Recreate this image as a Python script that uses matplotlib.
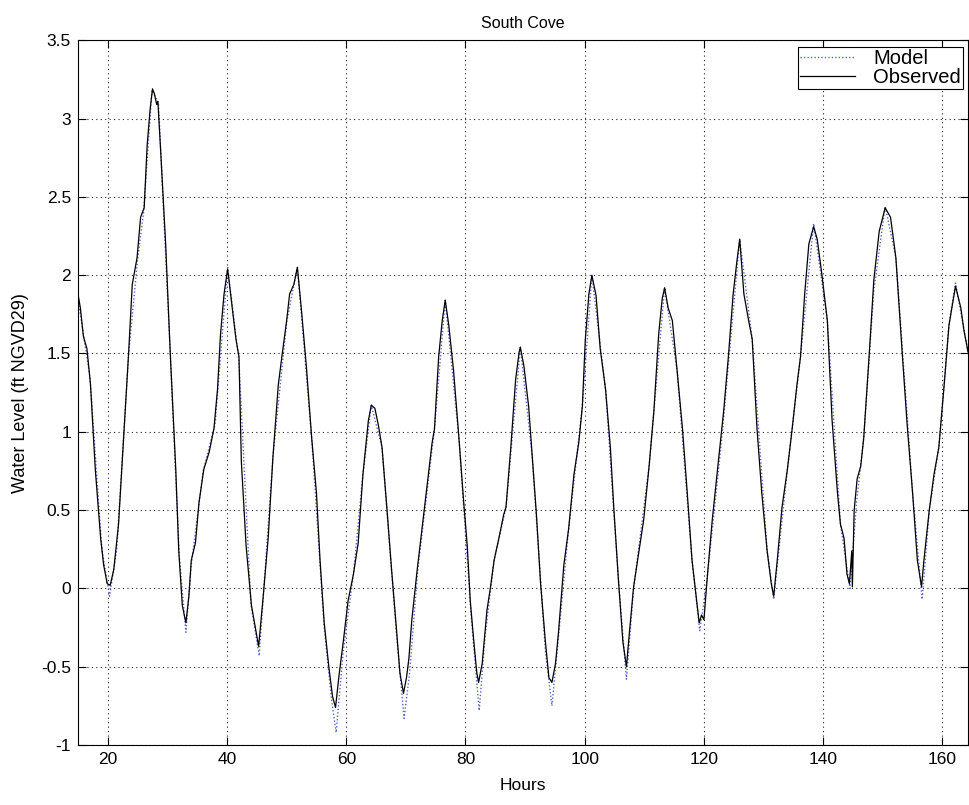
import numpy as np
import matplotlib
matplotlib.use('Agg')
from matplotlib import pyplot as plt

# observed water level (hours, ft NGVD29)
obs_hours = [15.0, 15.4, 15.9, 16.5, 17.1, 17.9, 18.8, 19.3, 19.9, 20.4, 21.0, 21.8, 22.7, 23.5, 24.1,
             24.9, 25.5, 26.1, 26.6, 27.1, 27.5, 27.8, 28.2, 28.4, 28.9, 29.7, 30.5, 31.4, 31.9, 32.5,
             33.1, 33.6, 34.0, 34.7, 35.3, 36.1, 37.0, 37.8, 38.4, 38.9, 39.5, 40.1, 40.6, 41.5, 42.0,
             42.4, 43.2, 44.1, 44.6, 45.3, 46.0, 46.9, 47.7, 48.6, 49.3, 50.0, 50.5, 51.2, 51.8, 52.5,
             53.3, 54.2, 55.0, 55.6, 56.3, 57.1, 57.7, 58.2, 58.8, 59.5, 60.3, 61.2, 62.0, 62.8, 63.7,
             64.2, 64.8, 65.4, 66.0, 66.8, 67.6, 68.4, 69.0, 69.6, 70.1, 70.5, 71.0, 71.9, 72.7, 73.6,
             74.4, 74.8, 75.5, 76.1, 76.6, 77.2, 78.0, 78.9, 79.7, 80.3, 80.8, 81.4, 81.9, 82.2, 82.8,
             83.6, 84.2, 84.8, 85.6, 86.4, 86.8, 87.6, 88.4, 89.0, 89.2, 89.8, 90.6, 91.2, 91.9, 92.6,
             93.4, 94.0, 94.5, 95.1, 95.6, 96.5, 97.3, 98.2, 99.0, 99.6, 100.1, 100.7, 101.2, 101.9, 102.6,
             103.5, 104.3, 104.9, 105.7, 106.4, 107.0, 107.5, 108.2, 109.1, 109.9, 110.8, 111.6, 112.4, 113.0, 113.4,
             114.0, 114.7, 115.5, 116.4, 117.2, 118.0, 118.7, 119.2, 119.6, 120.0, 120.6, 121.4, 122.2, 123.3, 124.1,
             124.9, 125.5, 126.0, 126.7, 127.5, 128.1, 128.9, 129.7, 130.6, 131.3, 131.7, 132.3, 133.1, 134.0, 134.8,
             135.6, 136.2, 136.9, 137.6, 138.4, 139.0, 139.8, 140.7, 141.5, 142.4, 142.9, 143.5, 144.0, 144.4, 144.8,
             144.9, 145.2, 145.7, 146.3, 146.8, 147.7, 148.5, 149.4, 150.4, 151.3, 152.2, 153.3, 154.1, 155.0, 155.8,
             156.5, 156.9, 157.8, 158.6, 159.4, 160.3, 161.1, 162.2, 163.1, 163.6, 164.3]
obs_level = [1.88, 1.79, 1.61, 1.53, 1.30, 0.76, 0.32, 0.15, 0.03, 0.02, 0.12, 0.41, 0.99, 1.51, 1.94,
             2.11, 2.37, 2.43, 2.83, 3.06, 3.19, 3.16, 3.09, 3.11, 2.77, 2.20, 1.48, 0.76, 0.24, -0.11,
             -0.22, -0.05, 0.18, 0.29, 0.55, 0.76, 0.87, 1.02, 1.27, 1.62, 1.88, 2.04, 1.88, 1.59, 1.48,
             0.81, 0.27, -0.11, -0.22, -0.37, -0.08, 0.32, 0.84, 1.30, 1.51, 1.71, 1.88, 1.94, 2.05, 1.77,
             1.42, 0.96, 0.61, 0.18, -0.22, -0.51, -0.69, -0.76, -0.55, -0.34, -0.08, 0.09, 0.29, 0.73, 1.07,
             1.17, 1.15, 1.04, 0.90, 0.52, 0.12, -0.25, -0.54, -0.67, -0.57, -0.45, -0.20, 0.12, 0.38, 0.67,
             0.93, 1.02, 1.48, 1.71, 1.84, 1.68, 1.39, 0.96, 0.55, 0.27, -0.08, -0.34, -0.54, -0.60, -0.48,
             -0.14, 0.01, 0.18, 0.32, 0.47, 0.52, 0.90, 1.33, 1.51, 1.54, 1.42, 1.16, 0.84, 0.47, 0.03,
             -0.34, -0.57, -0.60, -0.48, -0.28, 0.15, 0.38, 0.73, 0.93, 1.16, 1.59, 1.88, 2.00, 1.87, 1.53,
             1.27, 0.90, 0.50, 0.03, -0.34, -0.50, -0.28, 0.01, 0.24, 0.44, 0.78, 1.13, 1.62, 1.85, 1.92,
             1.79, 1.71, 1.39, 1.02, 0.61, 0.18, -0.05, -0.22, -0.17, -0.20, 0.09, 0.44, 0.73, 1.13, 1.48,
             1.88, 2.08, 2.23, 1.88, 1.71, 1.59, 1.02, 0.61, 0.24, 0.03, -0.05, 0.18, 0.52, 0.76, 1.02,
             1.30, 1.48, 1.88, 2.20, 2.31, 2.23, 2.00, 1.71, 1.07, 0.61, 0.41, 0.32, 0.09, 0.03, 0.24,
             0.01, 0.50, 0.70, 0.78, 0.96, 1.48, 1.97, 2.28, 2.43, 2.37, 2.11, 1.48, 1.04, 0.61, 0.18,
             0.01, 0.18, 0.50, 0.73, 0.90, 1.30, 1.68, 1.93, 1.79, 1.65, 1.51]

# model run, same axes
mod_hours = [15.0, 17.0, 19.0, 20.3, 21.5, 23.5, 25.0, 26.0, 27.4, 28.5, 30.5, 32.0, 33.1, 34.0, 36.0,
             38.0, 40.1, 42.0, 44.0, 45.4, 47.7, 50.0, 51.8, 54.2, 56.3, 57.5, 58.3, 59.5, 61.2, 62.8,
             64.2, 66.0, 68.4, 69.7, 70.6, 72.0, 74.8, 76.6, 78.9, 81.0, 82.3, 83.3, 84.8, 86.8, 89.2,
             91.2, 93.4, 94.5, 95.5, 97.3, 99.6, 101.2, 103.5, 105.7, 107.0, 108.2, 110.8, 113.4, 115.5, 118.0,
             119.3, 120.5, 123.0, 126.0, 128.1, 130.6, 131.7, 134.0, 136.2, 138.4, 140.7, 142.9, 144.5, 145.6, 146.8,
             148.5, 150.4, 152.2, 155.0, 156.6, 157.8, 159.4, 161.1, 162.2, 164.3]
mod_level = [1.85, 1.35, 0.25, -0.05, 0.25, 1.50, 2.10, 2.40, 3.18, 3.10, 1.48, 0.20, -0.28, 0.15, 0.75,
             1.05, 2.05, 1.45, -0.10, -0.43, 0.84, 1.70, 2.05, 0.96, -0.25, -0.70, -0.92, -0.40, 0.09, 0.73,
             1.17, 0.90, -0.28, -0.83, -0.55, 0.12, 1.02, 1.84, 0.96, -0.20, -0.78, -0.30, 0.18, 0.52, 1.54,
             0.84, -0.40, -0.75, -0.35, 0.38, 1.16, 2.00, 1.27, 0.03, -0.58, 0.00, 0.78, 1.92, 1.39, 0.18,
             -0.27, 0.05, 0.96, 2.23, 1.59, 0.24, -0.07, 0.76, 1.48, 2.33, 1.71, 0.41, 0.00, 0.55, 0.96,
             1.90, 2.44, 2.11, 0.61, -0.07, 0.50, 0.90, 1.68, 1.95, 1.51]

yticks = [-1, -0.5, 0, 0.5, 1, 1.5, 2, 2.5, 3, 3.5]
ytick_labels = ['-1', '-0.5', '0', '0.5', '1', '1.5', '2', '2.5', '3', '3.5']
xticks = [20, 40, 60, 80, 100, 120, 140, 160]

plt.rcParams['font.family'] = ['Liberation Sans', 'DejaVu Sans']

fig = plt.figure(figsize=(9.69, 8.05), dpi=100)
ax = fig.add_axes([0.0805, 0.0745, 0.9185, 0.8755])

ax.plot(mod_hours, mod_level, linestyle=(0, (1, 1.5)), color='#5566c8', lw=1.0, label='Model')
ax.plot(obs_hours, obs_level, '-', color='black', lw=0.9, label='Observed')

ax.set_xlim(15, 164.3)
ax.set_ylim(-1, 3.5)
ax.set_xticks(xticks)
ax.set_yticks(yticks)
ax.set_yticklabels(ytick_labels)
ax.tick_params(direction='in', top=True, right=True, labelsize=12.5, length=6, pad=5)
ax.grid(True, linestyle=(0, (1, 3)), color='#222222', lw=0.8)
for s in ax.spines.values():
    s.set_linewidth(0.8)

ax.set_xlabel('Hours', fontsize=12.5, labelpad=8)
ax.set_ylabel('Water Level (ft NGVD29)', fontsize=13, labelpad=9)
ax.set_title('South Cove', fontsize=11.5, pad=9)

leg = ax.legend(loc='upper right', bbox_to_anchor=(0.994, 0.990), borderaxespad=0,
                fontsize=14.5, fancybox=False, framealpha=1, edgecolor='black',
                handlelength=2.7, handletextpad=0.9, borderpad=0.1, labelspacing=0.0)
leg.get_frame().set_linewidth(0.8)

fig.savefig('out.png', dpi=100)
